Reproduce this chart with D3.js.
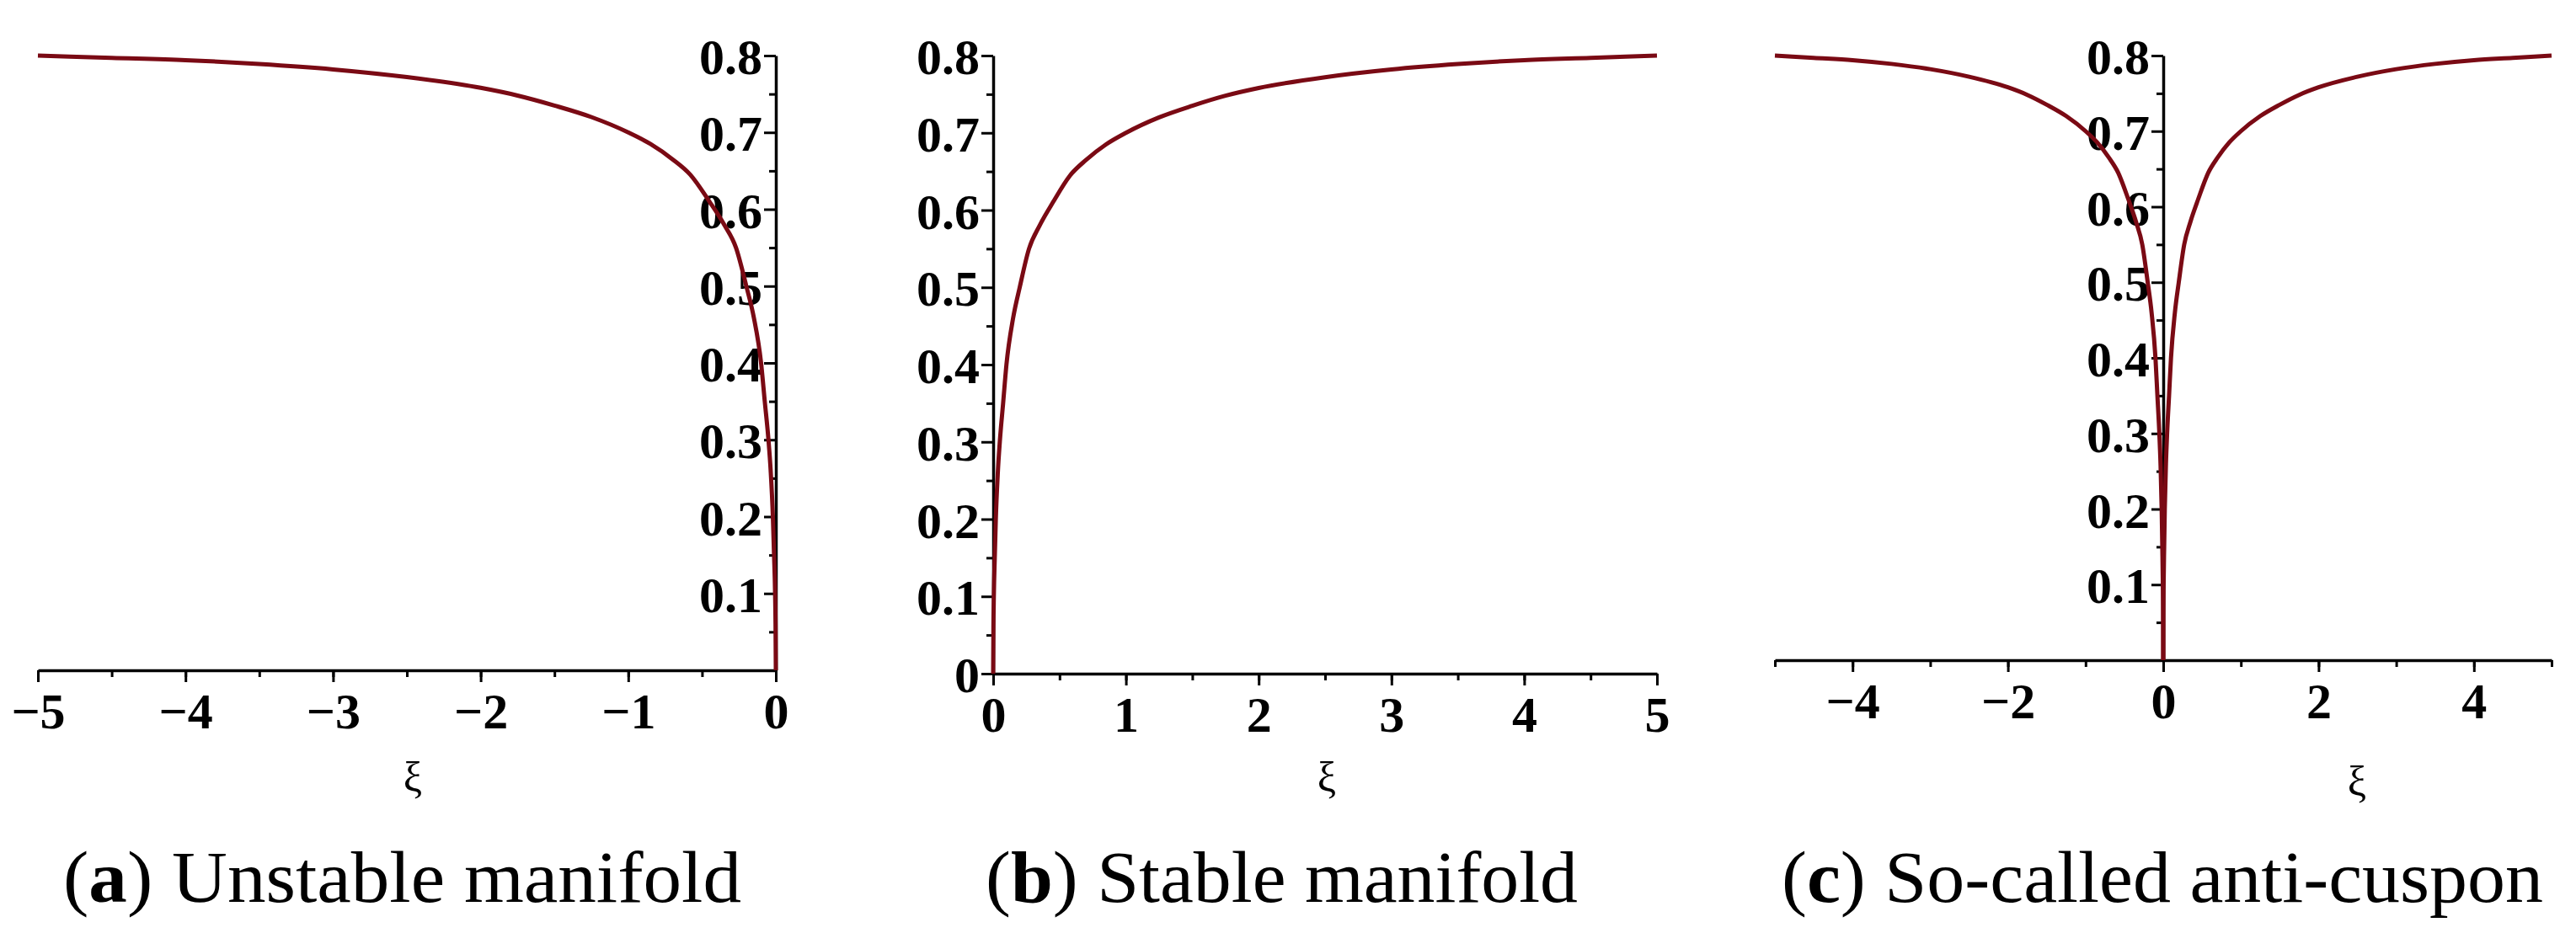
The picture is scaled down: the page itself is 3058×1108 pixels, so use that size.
<!DOCTYPE html>
<html>
<head>
<meta charset="utf-8">
<script src="https://cdn.jsdelivr.net/npm/d3@7"></script>
<style>
  body { margin: 0; background: #fff; }
  .tick text { font-family: "Liberation Serif", serif; font-weight: bold; font-size: 60px; fill: #000; }
</style>
</head>
<body>
<div id="chart"></div>
<script>
// values (stable branch, xi >= 0)
const xiPos = [0, 0.002, 0.005, 0.012, 0.02, 0.035, 0.05, 0.075, 0.1, 0.15, 0.2, 0.27, 0.35, 0.45, 0.58, 0.7, 0.85, 1, 1.25, 1.5, 1.75, 2, 2.5, 3, 3.5, 4, 4.5, 5];
const uPos  = [0, 0.06, 0.1, 0.15, 0.2, 0.26, 0.3, 0.35, 0.4, 0.46, 0.5, 0.55, 0.58, 0.61, 0.645, 0.665, 0.685, 0.7, 0.72, 0.735, 0.748, 0.758, 0.772, 0.782, 0.789, 0.794, 0.797, 0.8];

const yTicks = [0.1, 0.2, 0.3, 0.4, 0.5, 0.6, 0.7, 0.8];
const captions = [["a", " Unstable manifold"], ["b", " Stable manifold"], ["c", " So-called anti-cuspon"]];

const width = 3058, height = 1108;
const svg = d3.select("#chart").append("svg").attr("width", width).attr("height", height);

const unstable = xiPos.map((x, i) => [-x, uPos[i]]).reverse();
const stable = xiPos.map((x, i) => [x, uPos[i]]);

const panels = [
  {x0: 45, x1: 921, top: 66, bottom: 796, dom: [-5, 0], ticks: [-5, -4, -3, -2, -1, 0], minor: 0.5,
   yZero: false, series: [unstable], xiX: 490, xiY: 940, cap: [75, 805]},
  {x0: 1179, x1: 1967, top: 66, bottom: 800, dom: [0, 5], ticks: [0, 1, 2, 3, 4, 5], minor: 0.5,
   yZero: true, series: [stable], xiX: 1575, xiY: 940, cap: [1170, 703]},
  {x0: 2107, x1: 3029, top: 66, bottom: 784, dom: [-5, 5], ticks: [-4, -2, 0, 2, 4], minor: 1,
   yZero: false, series: [unstable, stable], xiX: 2798, xiY: 945, cap: [2115, 904]}
];

panels.forEach(function(p, k) {
  const x = d3.scaleLinear().domain(p.dom).range([p.x0, p.x1]);
  const y = d3.scaleLinear().domain([0, 0.8]).range([p.bottom, p.top]);
  const g = svg.append("g");
  const ax0 = x(0);

  // minor ticks
  const xMinor = d3.range(p.dom[0], p.dom[1] + 0.001, p.minor);
  const yMinor = d3.range(0.05, 0.8, 0.1);

  g.append("g")
    .attr("transform", `translate(0,${p.bottom})`)
    .call(d3.axisBottom(x).tickValues(xMinor).tickSize(8).tickFormat(""))
    .call(s => s.select(".domain").remove())
    .selectAll("line").attr("stroke-width", 3);

  g.append("g")
    .attr("transform", `translate(${ax0},0)`)
    .call(d3.axisLeft(y).tickValues(yMinor).tickSize(8).tickFormat(""))
    .call(s => s.select(".domain").remove())
    .selectAll("line").attr("stroke-width", 3);

  const xa = g.append("g")
    .attr("transform", `translate(0,${p.bottom})`)
    .call(d3.axisBottom(x).tickValues(p.ticks).tickSize(14).tickPadding(12).tickSizeOuter(0)
      .tickFormat(d => d < 0 ? "\u2212" + Math.abs(d) : d));
  xa.select(".domain").attr("stroke-width", 3.5);
  xa.selectAll("line").attr("stroke-width", 3);
  xa.selectAll("text").attr("font-weight", "normal");

  const ya = g.append("g")
    .attr("transform", `translate(${ax0},0)`)
    .call(d3.axisLeft(y).tickValues(p.yZero ? [0].concat(yTicks) : yTicks).tickSize(14).tickPadding(2)
      .tickSizeOuter(0).tickFormat(d => d === 0 ? "0" : d3.format(".1f")(d)));
  ya.select(".domain").attr("stroke-width", 3.5);
  ya.selectAll("line").attr("stroke-width", 3);
  ya.selectAll("text").attr("dy", "0.36em");

  const line = d3.line().x(d => x(d[0])).y(d => y(d[1])).curve(d3.curveMonotoneX);
  p.series.forEach(function(s) {
    g.append("path").datum(s).attr("d", line)
      .attr("fill", "none").attr("stroke", "#7a0a14").attr("stroke-width", 5);
  });

  g.append("text").attr("x", p.xiX).attr("y", p.xiY).attr("text-anchor", "middle")
    .attr("font-family", "Liberation Serif, serif").attr("font-size", 50).text("\u03be");

  const c = g.append("text").attr("x", p.cap[0]).attr("y", 1071)
    .attr("font-family", "Liberation Serif, serif").attr("font-size", 86)
    .attr("textLength", p.cap[1]).attr("lengthAdjust", "spacingAndGlyphs");
  c.append("tspan").text("(");
  c.append("tspan").attr("font-weight", "bold").text(captions[k][0]);
  c.append("tspan").text(")" + captions[k][1]);
});
</script>
</body>
</html>
